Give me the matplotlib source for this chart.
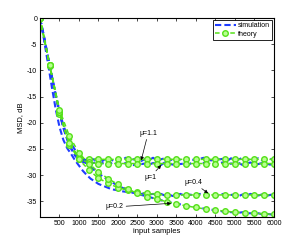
import numpy as np
import matplotlib
matplotlib.use('Agg')
import matplotlib.pyplot as plt

plt.rcParams['font.family'] = ['Liberation Sans', 'DejaVu Sans']
plt.rcParams['axes.unicode_minus'] = False

# simulation curves, one value every 100 input samples
x_sim = np.arange(0, 6001, 100)
sim_11 = [0.0, -3.5, -7.4, -11.2, -14.8, -18.2, -21.0, -23.2, -24.9, -26.0, -26.6, -26.9,
          -27.2, -26.8, -27.1, -26.7, -27.3, -26.9, -27.0, -27.3, -26.8, -27.1,
          -26.7, -27.2, -27.0, -26.8, -27.3, -26.9, -27.1, -26.7, -27.2, -27.0,
          -26.8, -27.3, -27.0, -26.7, -27.1, -27.2, -26.8, -27.0, -27.3, -26.9,
          -26.7, -27.1, -27.2, -26.8, -27.0, -26.9, -27.3, -26.8, -27.1, -27.0,
          -26.7, -27.2, -26.9, -27.1, -26.8, -27.2, -27.0, -26.9, -27.1]
sim_1 = [0.0, -3.4, -7.2, -11.0, -14.6, -18.0, -20.9, -23.2, -25.0, -26.3, -27.1, -27.5, -27.7,
         -27.9, -27.6, -28.0, -27.7, -28.1, -27.8, -27.6, -27.9, -28.0, -27.7,
         -27.8, -28.1, -27.6, -27.9, -27.8, -28.0, -27.7, -27.9, -28.1, -27.6,
         -27.8, -28.0, -27.7, -27.9, -27.8, -28.1, -27.6, -27.9, -28.0, -27.7,
         -27.8, -27.9, -28.1, -27.7, -27.6, -28.0, -27.8, -27.9, -27.7, -28.1,
         -27.8, -27.6, -28.0, -27.9, -27.7, -27.8, -28.0, -27.9]
sim_04 = [0.0, -4.0, -8.5, -13.0, -17.3, -20.8, -23.3, -24.9, -26.0, -27.2,
          -28.2, -29.2, -30.0, -30.7, -31.2, -31.7, -32.0, -32.3, -32.6, -32.8,
          -32.9, -33.1, -33.2, -33.3, -33.4, -33.5, -33.6, -33.5, -33.7, -33.6, -33.8,
          -33.6, -33.9, -33.7, -34.0, -33.8, -33.6, -33.9, -33.7, -33.8, -34.0,
          -33.6, -33.8, -33.9, -33.7, -34.0, -33.8, -33.6, -33.9, -33.8, -33.7,
          -34.0, -33.7, -33.9, -33.6, -33.8, -33.9, -33.7, -34.0, -33.8, -33.7]
sim_02 = [0.0, -3.6, -7.3, -11.0, -14.5, -17.8, -20.5, -22.5, -24.0, -25.2,
          -26.2, -27.1, -27.8, -28.5, -29.1, -29.7, -30.2, -30.7, -31.2, -31.6,
          -32.0, -32.4, -32.7, -33.0, -33.3, -33.6, -33.8, -34.0, -34.2, -34.4,
          -34.6, -34.8, -35.0, -35.2, -35.3, -35.5, -35.6, -35.8, -35.9, -36.1,
          -36.2, -36.3, -36.4, -36.6, -36.6, -36.8, -36.8, -37.0, -36.9, -37.1,
          -37.1, -37.2, -37.1, -37.3, -37.3, -37.4, -37.3, -37.5, -37.4, -37.5, -37.6]

# theory curves, one value every 250 input samples
x_th = np.arange(0, 6001, 250)
th_11 = [0.0, -9.2, -18.3, -24.0, -26.5, -26.9] + [-27.0] * 19
th_1 = [0.0, -9.0, -18.0, -24.2, -27.0, -27.6] + [-27.8] * 19
th_04 = [0.0, -9.0, -18.0, -23.8, -27.0, -29.0, -30.6, -31.6, -32.4, -32.9,
         -33.3, -33.5, -33.7] + [-33.8] * 12
th_02 = [0.0, -9.0, -17.5, -22.5, -25.8, -27.8, -29.4, -30.7, -31.8, -32.7,
         -33.5, -34.1, -34.6, -35.1, -35.5, -35.9, -36.2, -36.5, -36.7, -36.9,
         -37.1, -37.2, -37.3, -37.4, -37.5]

blue = '#1f3cff'
green = '#55e01a'

fig = plt.figure(figsize=(3.03, 2.44), dpi=100)
ax = fig.add_axes([0.132, 0.111, 0.772, 0.815])

sims = [sim_11, sim_1, sim_04, sim_02]
ths = [th_11, th_1, th_04, th_02]
for i, s in enumerate(sims):
    ax.plot(x_sim, s, color=blue, lw=1.5, ls=(0, (3, 1.5)),
            label='simulation' if i == 0 else None)
for i, t in enumerate(ths):
    ax.plot(x_th, t, color=green, lw=1.1, ls=(0, (3, 2)), marker='o', ms=4,
            mfc='#b8ff90', mec=green, mew=1.0,
            label='theory' if i == 0 else None)

arrow = dict(arrowstyle='-|>', color='k', lw=0.5, mutation_scale=5, shrinkA=0, shrinkB=0)
ax.annotate('μ=1.1', xy=(2595, -27.2), xytext=(2774, -22.0), fontsize=5,
            ha='center', va='center', arrowprops=arrow)
ax.annotate('μ=1', xy=(3108, -28.1), xytext=(2828, -30.4), fontsize=5,
            ha='center', va='center', arrowprops=arrow)
ax.annotate('μ=0.4', xy=(4313, -33.5), xytext=(3933, -31.4), fontsize=5,
            ha='center', va='center', arrowprops=arrow)
ax.annotate('μ=0.2', xy=(3364, -35.4), xytext=(1908, -36.1), fontsize=5,
            ha='center', va='center', arrowprops=arrow)

ax.set_xlim(0, 6000)
ax.set_ylim(-38, 0)
ax.set_xticks(range(500, 6001, 500))
ax.set_yticks(range(-35, 1, 5))
ax.tick_params(direction='in', top=True, right=True, labelsize=5, length=2, width=0.5, pad=2)
for sp in ax.spines.values():
    sp.set_linewidth(0.8)
ax.set_xlabel('input samples', fontsize=5.5, labelpad=1)
ax.set_ylabel('MSD, dB', fontsize=5.5, labelpad=2)

leg = ax.legend(loc='upper right', fontsize=5, fancybox=False, framealpha=1,
                edgecolor='k', handlelength=3, borderpad=0.3, labelspacing=0.2,
                borderaxespad=0.3, handletextpad=0.3)
leg.get_frame().set_linewidth(0.6)

fig.savefig('out.png', dpi=100)
